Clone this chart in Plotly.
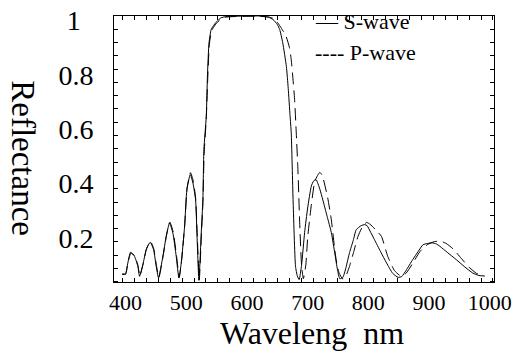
import plotly.graph_objects as go

# S-wave (solid)
s_wl = [394.5, 400, 403.8, 408.2, 414.8, 420.3, 423.1, 428.6, 434.1, 440.6, 446.2, 450.5, 454.4,
        461.5, 467, 472.5, 478, 483.5, 487.9, 491.8, 497.3, 501.1, 506.6, 511, 515.4, 517.6, 520.9,
        524.7, 527.4, 529.1, 533, 535, 537.5, 541, 544, 550, 557, 565, 580, 600, 620, 635, 643,
        650, 654, 659, 665, 668, 671, 673, 676, 680, 683, 686, 690, 695, 700, 706, 710, 714, 720,
        725, 732, 739, 745, 749, 753, 758, 763, 769, 775, 780, 788, 794, 798, 804, 810, 820, 830,
        840, 849, 855, 862, 873, 882, 890, 898, 905, 912, 918, 930, 945, 958, 972, 982, 992]
s_r = [0.068, 0.068, 0.108, 0.147, 0.132, 0.096, 0.059, 0.102, 0.157, 0.184, 0.157, 0.096, 0.053,
       0.132, 0.206, 0.255, 0.218, 0.132, 0.053, 0.108, 0.243, 0.378, 0.433, 0.402, 0.341, 0.218, 0.044,
       0.218, 0.341, 0.525, 0.647, 0.80, 0.917, 0.966, 0.978, 0.995, 1.009, 1.014, 1.015, 1.016, 1.016, 1.012, 1.003,
       0.985, 0.966, 0.917, 0.83, 0.75, 0.65, 0.586, 0.341, 0.096, 0.06, 0.047, 0.10, 0.22, 0.31, 0.39, 0.41, 0.414, 0.38,
       0.34, 0.28, 0.22, 0.14, 0.085, 0.05, 0.055, 0.09, 0.146, 0.19, 0.23, 0.245, 0.249, 0.245, 0.22, 0.194, 0.15, 0.108,
       0.07, 0.055, 0.058, 0.08, 0.12, 0.15, 0.175, 0.18, 0.182, 0.178, 0.169, 0.147, 0.12, 0.095, 0.071, 0.062, 0.06]

# P-wave (dashed)
p_wl = [394.5, 400, 404, 409, 415, 420.5, 423.5, 429, 434.5, 441, 446.5, 451, 455,
        462, 467.5, 473, 478.5, 484, 488.5, 492, 497.5, 501.5, 507, 511.5, 515.5, 518, 521.5,
        525, 527.5, 529.5, 533, 535.5, 538, 541.5, 545, 551, 558, 566, 580, 600, 620, 636, 645,
        651, 657, 664.7, 670, 673, 676, 678.5, 681, 684, 687, 690, 693, 697, 700, 706, 712, 720,
        724, 733, 739, 744, 747, 752, 758, 763, 769, 776, 783, 790, 797, 803, 812, 821.5, 832,
        843, 854, 862, 873.5, 885, 897, 908, 918, 928, 939.5, 953, 967, 978, 986]
p_r = [0.066, 0.066, 0.11, 0.145, 0.135, 0.098, 0.06, 0.105, 0.16, 0.188, 0.16, 0.098, 0.055,
       0.135, 0.21, 0.258, 0.222, 0.135, 0.055, 0.11, 0.248, 0.385, 0.44, 0.41, 0.345, 0.22, 0.046,
       0.21, 0.33, 0.51, 0.64, 0.79, 0.91, 0.96, 0.975, 0.992, 1.006, 1.012, 1.014, 1.015, 1.015, 1.012, 1.006,
       0.99, 0.97, 0.94, 0.90, 0.855, 0.78, 0.71, 0.598, 0.45, 0.25, 0.10, 0.05, 0.10, 0.20, 0.32, 0.41, 0.441,
       0.43, 0.348, 0.267, 0.17, 0.12, 0.07, 0.049, 0.06, 0.096, 0.15, 0.206, 0.24, 0.257, 0.25, 0.23, 0.206, 0.132,
       0.08, 0.059, 0.07, 0.108, 0.15, 0.175, 0.186, 0.188, 0.18, 0.16, 0.125, 0.09, 0.07, 0.061]

x_ticks = [400, 500, 600, 700, 800, 900, 1000]
x_labels = ["400", "500", "600", "700", "800", "900", "1000"]
y_ticks = [0.2, 0.4, 0.6, 0.8, 1.0]
y_labels = ["0.2", "0.4", "0.6", "0.8", "1\u2008\u2009"]

FONT = "Liberation Serif"

fig = go.Figure()
fig.add_trace(go.Scatter(x=s_wl, y=s_r, mode="lines", name="S-wave",
                         line=dict(color="black", width=1, shape="spline", smoothing=0.5)))
fig.add_trace(go.Scatter(x=p_wl, y=p_r, mode="lines", name="P-wave",
                         line=dict(color="black", width=1, dash="12px,6px", shape="spline", smoothing=0.5)))

fig.update_layout(
    template="none",
    width=515, height=354,
    margin=dict(l=114, r=21, t=16, b=72, pad=0),
    paper_bgcolor="white", plot_bgcolor="white",
    showlegend=False,
    font=dict(family=FONT, color="black"),
)
fig.update_xaxes(
    range=[381, 1007], tickvals=x_ticks, ticktext=x_labels,
    ticks="", showgrid=False, zeroline=False, automargin=False,
    showline=True, linecolor="black", linewidth=1, mirror="allticks",
    tickfont=dict(family=FONT, size=22, color="black"),
    ticklabelstandoff=1,
    minor=dict(ticks="inside", tick0=394.6, dtick=19.7, ticklen=4, tickcolor="black", tickwidth=1, showgrid=False),
)
fig.update_yaxes(
    range=[0.038, 1.016], tickvals=y_ticks, ticktext=y_labels,
    ticks="", showgrid=False, zeroline=False, automargin=False,
    showline=True, linecolor="black", linewidth=1, mirror="allticks",
    tickfont=dict(family=FONT, size=28, color="black"),
    ticklabelstandoff=14,
    minor=dict(ticks="inside", tick0=0.0873, dtick=0.0489, ticklen=4, tickcolor="black", tickwidth=1, showgrid=False),
)

# legend as text
fig.add_annotation(x=0.524, y=0.978, xref="paper", yref="paper", xanchor="left", yanchor="middle",
                   text="\u2014 S-wave", showarrow=False, font=dict(family=FONT, size=22, color="black"))
fig.add_annotation(x=0.524, y=0.862, xref="paper", yref="paper", xanchor="left", yanchor="middle",
                   text="---- P-wave", showarrow=False, font=dict(family=FONT, size=22, color="black"))

# axis titles
fig.add_annotation(x=-0.24, y=0.466, xref="paper", yref="paper", xanchor="center", yanchor="middle",
                   text="Reflectance", textangle=90, showarrow=False,
                   font=dict(family=FONT, size=33, color="black"))
fig.add_annotation(x=0.521, y=-0.19, xref="paper", yref="paper", xanchor="center", yanchor="middle",
                   text="Waveleng\u00a0 nm", showarrow=False,
                   font=dict(family=FONT, size=32, color="black"))

fig.write_html("out.html", config={"displayModeBar": False},
               post_script="document.body.style.margin='0';document.body.style.overflow='hidden';")
